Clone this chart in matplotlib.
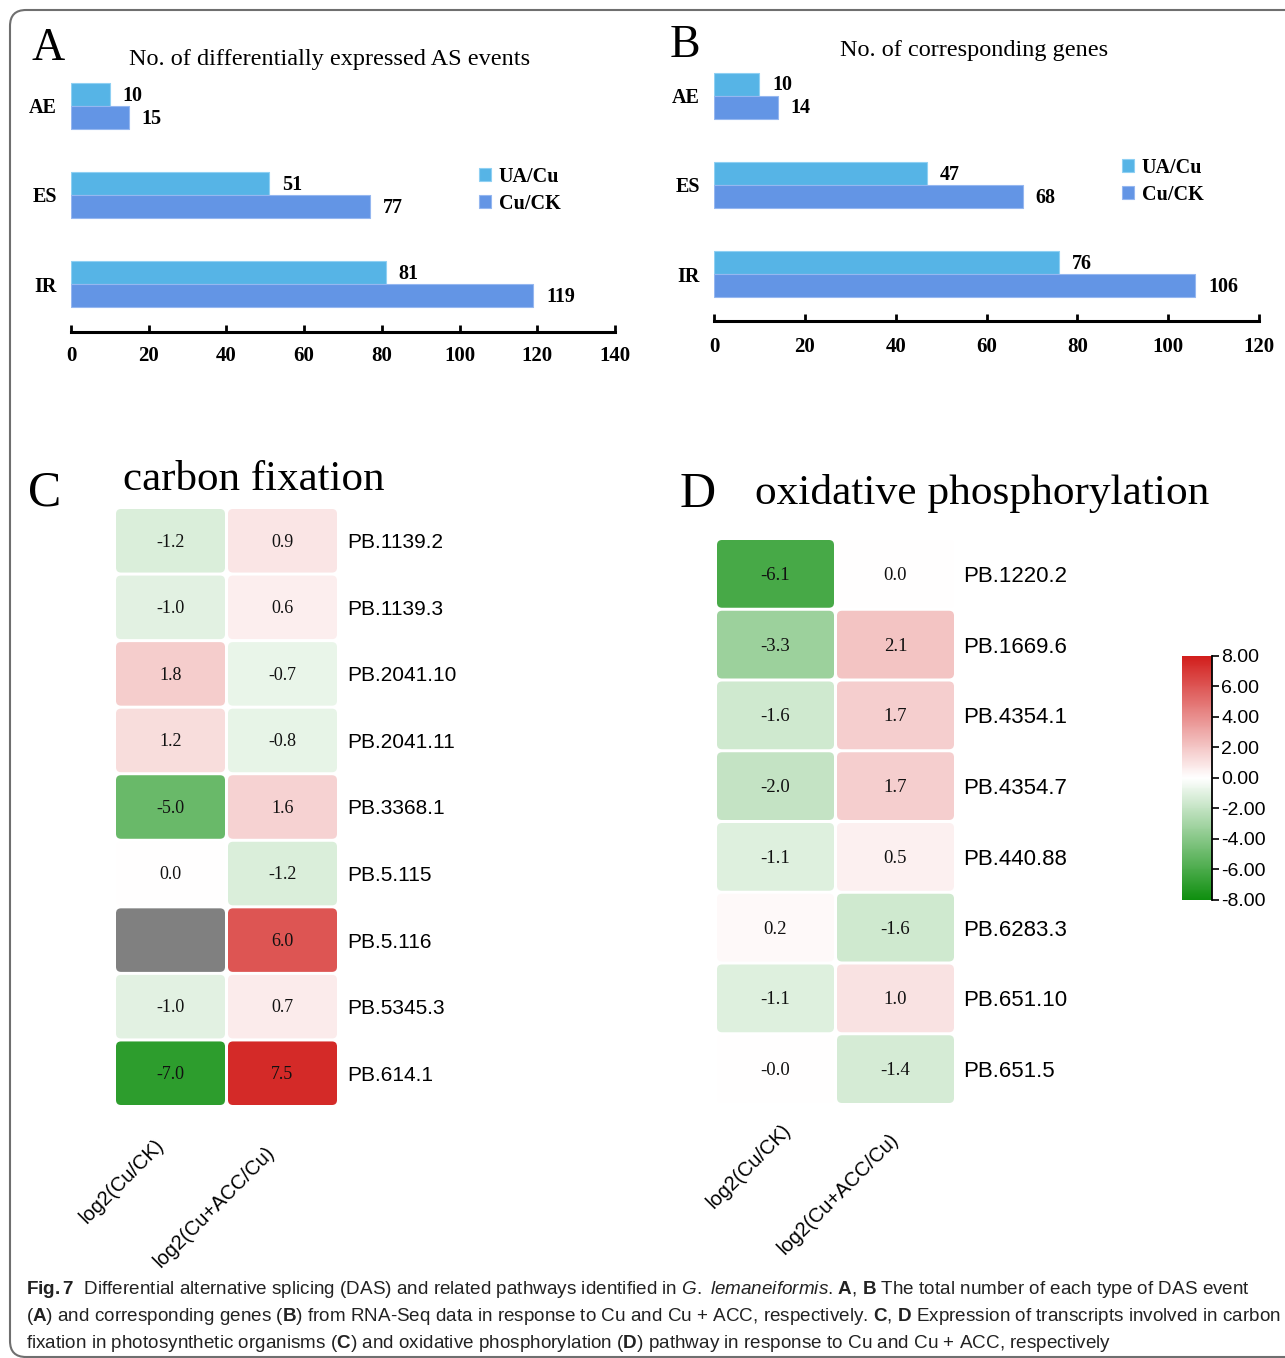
import numpy as np
import matplotlib
matplotlib.use("Agg")
import matplotlib.pyplot as plt
from matplotlib.patches import FancyBboxPatch
from matplotlib.colors import LinearSegmentedColormap, Normalize
from matplotlib.cm import ScalarMappable
from matplotlib.transforms import IdentityTransform

# ---------------- data ----------------
as_types = ["AE", "ES", "IR"]
legend_labels = ["UA/Cu", "Cu/CK"]
events_ua_cu = [10, 51, 81]
events_cu_ck = [15, 77, 119]
genes_ua_cu = [10, 47, 76]
genes_cu_ck = [14, 68, 106]
events_xticks = [0, 20, 40, 60, 80, 100, 120, 140]
genes_xticks = [0, 20, 40, 60, 80, 100, 120]

heat_cols = ["log2(Cu/CK)", "log2(Cu+ACC/Cu)"]
carbon_ids = ["PB.1139.2", "PB.1139.3", "PB.2041.10", "PB.2041.11", "PB.3368.1",
              "PB.5.115", "PB.5.116", "PB.5345.3", "PB.614.1"]
carbon_cu_ck = [-1.2, -1.0, 1.8, 1.2, -5.0, 0.0, float("nan"), -1.0, -7.0]
carbon_acc_cu = [0.9, 0.6, -0.7, -0.8, 1.6, -1.2, 6.0, 0.7, 7.5]
oxphos_ids = ["PB.1220.2", "PB.1669.6", "PB.4354.1", "PB.4354.7", "PB.440.88",
              "PB.6283.3", "PB.651.10", "PB.651.5"]
oxphos_cu_ck = [-6.1, -3.3, -1.6, -2.0, -1.1, 0.2, -1.1, -0.0]
oxphos_acc_cu = [0.0, 2.1, 1.7, 1.7, 0.5, -1.6, 1.0, -1.4]
cbar_ticks = [-8, -6, -4, -2, 0, 2, 4, 6, 8]

caption_lines = [
    r"$\mathbf{Fig.}$$\mathbf{7}$  Differential alternative splicing (DAS) and related pathways identified in "
    r"$\mathit{G.\ lemaneiformis}$. $\mathbf{A}$, $\mathbf{B}$ The total number of each type of DAS event",
    r"($\mathbf{A}$) and corresponding genes ($\mathbf{B}$) from RNA-Seq data in response to Cu and Cu + ACC, "
    r"respectively. $\mathbf{C}$, $\mathbf{D}$ Expression of transcripts involved in carbon",
    r"fixation in photosynthetic organisms ($\mathbf{C}$) and oxidative phosphorylation ($\mathbf{D}$) "
    r"pathway in response to Cu and Cu + ACC, respectively",
]

# ---------------- style ----------------
W, H, DPI = 1285, 1358, 100
PT = 72.0 / DPI  # points per pixel
plt.rcParams["axes.unicode_minus"] = False
SERIF = ["Liberation Serif", "DejaVu Serif"]
SANS = ["Liberation Sans", "DejaVu Sans"]
plt.rcParams["mathtext.fontset"] = "custom"
plt.rcParams["mathtext.rm"] = "Liberation Sans"
plt.rcParams["mathtext.bf"] = "Liberation Sans:bold"
plt.rcParams["mathtext.it"] = "Liberation Sans:italic"

C_UA, C_CK = "#56B4E6", "#6395E5"
E_UA, E_CK = "#8FD0F3", "#95B7F0"

fig = plt.figure(figsize=(W / DPI, H / DPI), dpi=DPI)


def px_axes(l, t, r, b):
    ax = fig.add_axes([l / W, 1 - b / H, (r - l) / W, (b - t) / H])
    ax.set_facecolor("none")
    return ax


# outer frame (rounded, open to right/bottom edges)
frame = FancyBboxPatch((10, 1), 1400, H - 11, boxstyle="round,pad=0,rounding_size=16",
                       transform=IdentityTransform(), fc="none", ec="#6f6f6f", lw=1.5, zorder=0)
fig.add_artist(frame)


# ---------------- bar panels ----------------
def bar_panel(l, r, center0, pitch, spine_y, ua, ck, xticks, leg_xy, tick_pad):
    top_lim = -0.55
    bot_lim = (spine_y - center0) / pitch
    ax = px_axes(l, center0 + top_lim * pitch, r, spine_y)
    y = np.arange(len(as_types))
    hb = 23.0 / pitch
    ax.barh(y - hb / 2, ua, height=hb, color=C_UA, edgecolor=E_UA, lw=0.8, label=legend_labels[0])
    ax.barh(y + hb / 2, ck, height=hb, color=C_CK, edgecolor=E_CK, lw=0.8, label=legend_labels[1])
    for yy, v in list(zip(y - hb / 2, ua)) + list(zip(y + hb / 2, ck)):
        ax.annotate(str(v), xy=(v, yy), xytext=(9, -1), textcoords="offset points",
                    va="center", ha="left", fontfamily=SERIF, fontweight="bold", fontsize=14.5)
    ax.set_xlim(xticks[0], xticks[-1])
    ax.set_ylim(bot_lim, top_lim)
    for s in ["top", "right", "left"]:
        ax.spines[s].set_visible(False)
    ax.spines["bottom"].set_linewidth(2.2)
    ax.set_xticks(xticks, labels=[str(v) for v in xticks], fontfamily=SERIF,
                  fontweight="bold", fontsize=15)
    ax.tick_params(axis="x", direction="in", length=5, width=2, pad=tick_pad)
    ax.set_yticks(y, labels=as_types, fontfamily=SERIF, fontweight="bold", fontsize=14.5)
    ax.tick_params(axis="y", length=0, pad=10)
    ax.legend(loc="upper left", bbox_to_anchor=(leg_xy[0] / W, 1 - leg_xy[1] / H),
              bbox_transform=fig.transFigure, frameon=False,
              prop=dict(family=SERIF, weight="bold", size=14.5),
              handlelength=0.62, handleheight=0.62, handletextpad=0.35,
              labelspacing=0.35, borderpad=0, borderaxespad=0)
    return ax


bar_panel(71, 615, 105.7, 89.3, 332, events_ua_cu, events_cu_ck, events_xticks, (479, 167), 10)
bar_panel(714, 1259, 95.5, 89.4, 320.5, genes_ua_cu, genes_cu_ck, genes_xticks, (1122, 158), 12)

# ---------------- heatmaps ----------------
cmap = LinearSegmentedColormap.from_list("gwr", ["#0f8f0f", "#ffffff", "#d21e1c"])
norm = Normalize(-8, 8)


def heatmap(box, ids, cols, row_fs, cell_fs, row_pad_px, lab_offsets):
    l, t, r, b = box
    ax = px_axes(l, t, r, b)
    ncol, nrow = len(cols), len(ids)
    ax.set_xlim(0, ncol)
    ax.set_ylim(nrow, 0)
    ppx = (r - l) / ncol
    ppy = (b - t) / nrow
    gx, gy = 1.5 / ppx, 1.5 / ppy
    rs = 5.0 / ppx
    for j, vals in enumerate(cols):
        for i, v in enumerate(vals):
            fc = "#808080" if np.isnan(v) else cmap(norm(v))
            ax.add_patch(FancyBboxPatch((j + gx, i + gy), 1 - 2 * gx, 1 - 2 * gy,
                                        boxstyle=f"round,pad=0,rounding_size={rs}",
                                        mutation_aspect=ppx / ppy, fc=fc, ec="none"))
            if not np.isnan(v):
                ax.text(j + 0.5, i + 0.52, f"{v:.1f}", ha="center", va="center",
                        fontfamily=SERIF, fontsize=cell_fs, color="#111111")
    for s in ax.spines.values():
        s.set_visible(False)
    ax.set_xticks([])
    ax.yaxis.tick_right()
    ax.set_yticks(np.arange(nrow) + 0.5, labels=ids, fontfamily=SANS, fontsize=row_fs)
    ax.tick_params(axis="y", length=0, pad=row_pad_px * PT)
    for j, name in enumerate(heat_cols):
        dx, dy = lab_offsets[j]
        ax.annotate(name, xy=(j + 0.5, nrow), xytext=(dx * PT, -dy * PT),
                    textcoords="offset points", rotation=45, rotation_mode="anchor",
                    ha="right", va="center", fontfamily=SANS, fontsize=14.5)
    return ax


heatmap((114.5, 507.5, 338.5, 1106.5), carbon_ids, [carbon_cu_ck, carbon_acc_cu],
        15, 13, 8.5, [(-9.5, 36), (-10.5, 43)])
heatmap((715.5, 538.5, 955.5, 1104.5), oxphos_ids, [oxphos_cu_ck, oxphos_acc_cu],
        16, 13.5, 7.5, [(13, 23), (0, 32)])

# colorbar
cax = px_axes(1182, 656, 1212, 900)
cb = fig.colorbar(ScalarMappable(norm=norm, cmap=cmap), cax=cax)
cb.outline.set_visible(False)
cb.set_ticks(cbar_ticks, labels=[f"{v:.2f}" for v in cbar_ticks], fontfamily=SANS, fontsize=14)
cax.tick_params(length=5, width=1.2, pad=1.5)
cax.plot([1, 1], [0, 1], transform=cax.transAxes, color="black", lw=1.3, clip_on=False)

# ---------------- overlay texts ----------------
ov = fig.add_axes([0, 0, 1, 1])
ov.set_xlim(0, W)
ov.set_ylim(H, 0)
ov.axis("off")
ov.text(32, 60, "A", fontfamily=SERIF, fontsize=33, va="baseline")
ov.text(129, 65, "No. of differentially expressed AS events", fontfamily=SERIF, fontsize=17.5, va="baseline")
ov.text(670, 57, "B", fontfamily=SERIF, fontsize=33, va="baseline")
ov.text(840, 56, "No. of corresponding genes", fontfamily=SERIF, fontsize=17.5, va="baseline")
ov.text(28, 506, "C", fontfamily=SERIF, fontsize=36, va="baseline")
ov.text(123, 490, "carbon fixation", fontfamily=SERIF, fontsize=31, va="baseline")
ov.text(680, 507, "D", fontfamily=SERIF, fontsize=36, va="baseline")
ov.text(755, 504, "oxidative phosphorylation", fontfamily=SERIF, fontsize=31.2, va="baseline")

for k, line in enumerate(caption_lines):
    ov.text(26, 1294 + 27 * k, line, fontfamily=SANS, fontsize=13.55, va="baseline", color="#222222")

fig.savefig("out.png", dpi=DPI)
